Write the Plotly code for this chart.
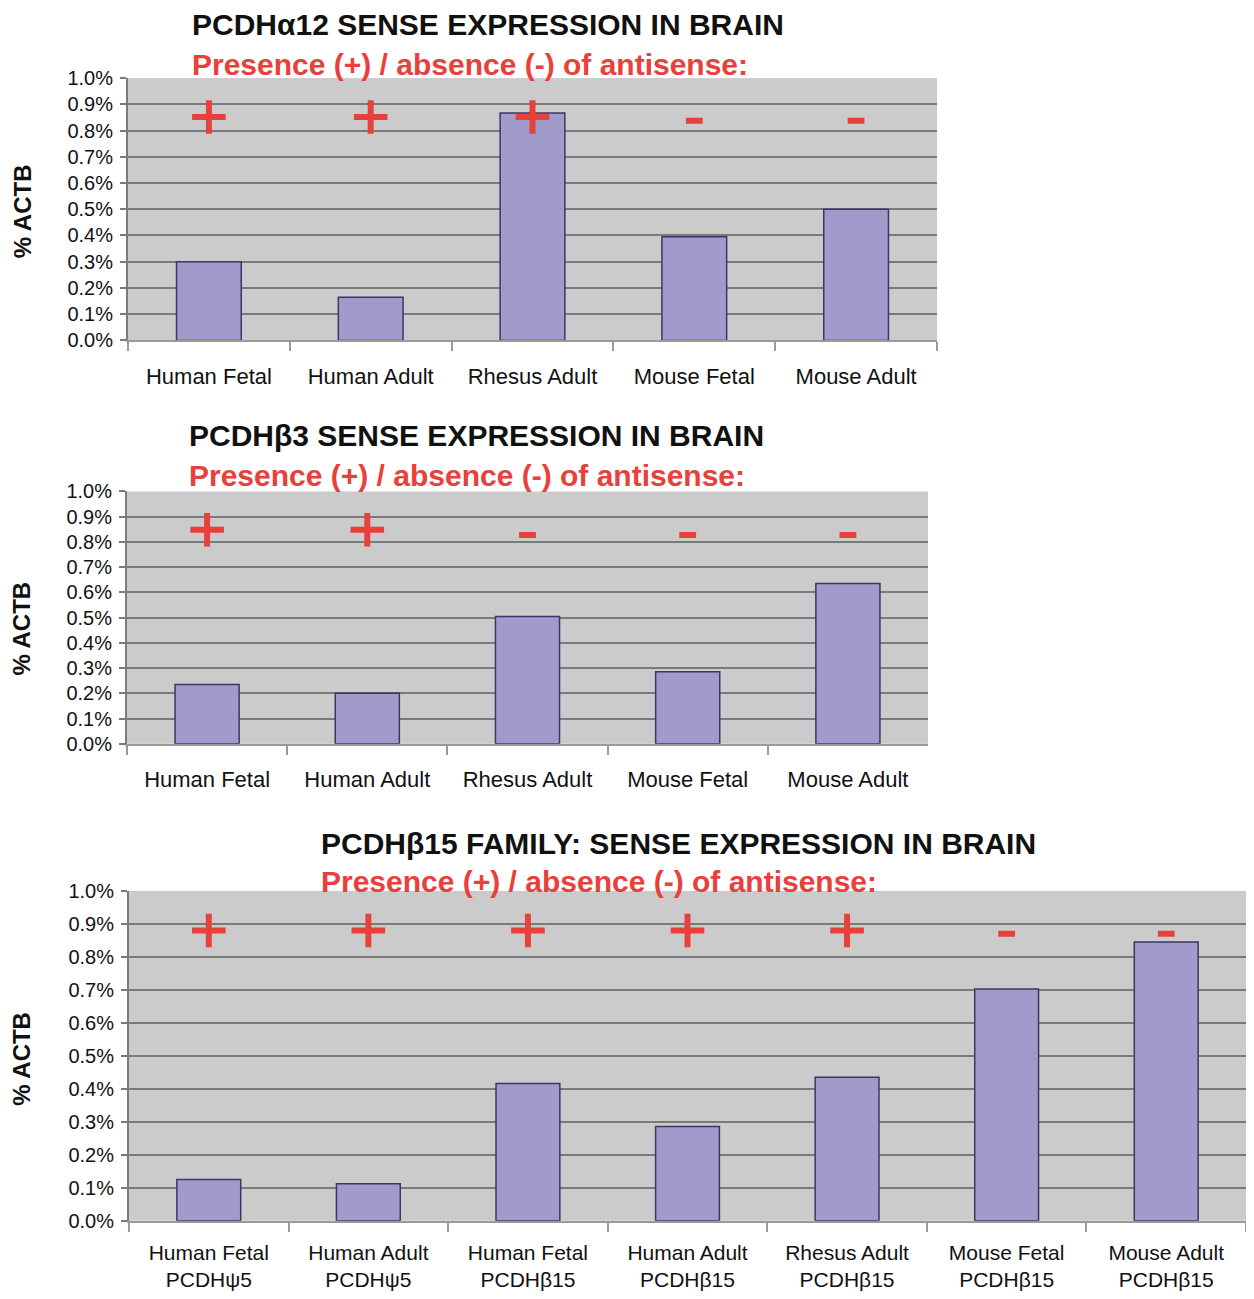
import plotly.graph_objects as go

# ---------------- data ----------------
cats_1 = ["Human Fetal", "Human Adult", "Rhesus Adult", "Mouse Fetal", "Mouse Adult"]
vals_1 = [0.30, 0.165, 0.867, 0.395, 0.50]
signs_1 = ["+", "+", "+", "-", "-"]

cats_2 = ["Human Fetal", "Human Adult", "Rhesus Adult", "Mouse Fetal", "Mouse Adult"]
vals_2 = [0.235, 0.20, 0.505, 0.286, 0.635]
signs_2 = ["+", "+", "-", "-", "-"]

cats_3 = ["Human Fetal<br>PCDHψ5", "Human Adult<br>PCDHψ5", "Human Fetal<br>PCDHβ15",
          "Human Adult<br>PCDHβ15", "Rhesus Adult<br>PCDHβ15", "Mouse Fetal<br>PCDHβ15",
          "Mouse Adult<br>PCDHβ15"]
vals_3 = [0.125, 0.112, 0.416, 0.286, 0.435, 0.703, 0.845]
signs_3 = ["+", "+", "+", "+", "+", "-", "-"]

sign_level = [0.852, 0.848, 0.88]   # height of the + markers in each panel
minus_level = [0.837, 0.827, 0.87]  # height of the - markers in each panel

titles = ["PCDHα12 SENSE EXPRESSION IN BRAIN",
          "PCDHβ3 SENSE EXPRESSION IN BRAIN",
          "PCDHβ15 FAMILY: SENSE EXPRESSION IN BRAIN"]
subtitle = "Presence (+) / absence (-) of antisense:"
y_title = "% ACTB"
y_ticks = [0.0, 0.1, 0.2, 0.3, 0.4, 0.5, 0.6, 0.7, 0.8, 0.9, 1.0]
y_tick_text = [f"{v:.1f}%" for v in y_ticks]

# ---------------- style ----------------
VW, VH = 1254, 1299          # viewport
OFF = 8                      # default page margin
W, H = VW - 2 * OFF, VH - 2 * OFF
BAR_FILL = "#a09bcb"
BAR_LINE = "#3c3566"
RED = "#e8403a"
PLOT_BG = "#cbcbcb"
GRID = "#7a7a7a"
FONT = "Liberation Sans"

# empirical vertical calibration of the rendered page
YA, YB = 10.7, 0.9766


def px_x(p):
    return min(1.0, max(0.0, (p - OFF) / W))


def px_y(p):
    f = (p - YA) / YB - OFF
    return min(1.0, max(0.0, 1 - f / H))


panels = [
    dict(cats=cats_1, vals=vals_1, signs=signs_1,
         xd=[px_x(128), px_x(937)], yd=[px_y(342), px_y(78)],
         tx=190, ty=24, sy=64, ay=212, fs=22, so=15),
    dict(cats=cats_2, vals=vals_2, signs=signs_2,
         xd=[px_x(127), px_x(928)], yd=[px_y(748), px_y(494)],
         tx=187, ty=438, sy=478, ay=632, fs=22, so=15),
    dict(cats=cats_3, vals=vals_3, signs=signs_3,
         xd=[px_x(129), 1.0], yd=[px_y(1228), px_y(896)],
         tx=319, ty=848, sy=887, ay=1065, fs=21, so=12),
]

fig = go.Figure()
annotations = []

for i, p in enumerate(panels):
    n = i + 1
    xa = "x" if n == 1 else f"x{n}"
    ya = "y" if n == 1 else f"y{n}"
    fig.add_trace(go.Bar(
        x=p["cats"], y=p["vals"], width=0.4,
        marker=dict(color=BAR_FILL, line=dict(color=BAR_LINE, width=1.5)),
        xaxis=xa, yaxis=ya, showlegend=False, hoverinfo="x+y"))
    plus_x = [c for c, s in zip(p["cats"], p["signs"]) if s == "+"]
    minus_x = [c for c, s in zip(p["cats"], p["signs"]) if s == "-"]
    if plus_x:
        fig.add_trace(go.Scatter(
            x=plus_x, y=[sign_level[i]] * len(plus_x), mode="markers",
            marker=dict(symbol="cross-thin", size=24, line=dict(color=RED, width=6)),
            xaxis=xa, yaxis=ya, showlegend=False, hoverinfo="skip"))
    if minus_x:
        fig.add_trace(go.Scatter(
            x=minus_x, y=[minus_level[i]] * len(minus_x), mode="markers",
            marker=dict(symbol="line-ew", size=12, line=dict(color=RED, width=6)),
            xaxis=xa, yaxis=ya, showlegend=False, hoverinfo="skip"))

    xkey = "xaxis" if n == 1 else f"xaxis{n}"
    ykey = "yaxis" if n == 1 else f"yaxis{n}"
    fig.update_layout(**{
        xkey: dict(domain=p["xd"], anchor=ya, type="category",
                   showgrid=False, showline=True, linecolor="#9a9a9a", linewidth=2,
                   ticks="outside", tickson="boundaries", ticklen=9, tickcolor="#9a9a9a",
                   tickwidth=2, ticklabelstandoff=p["so"],
                   tickfont=dict(family=FONT, size=p["fs"], color="#111111"),
                   fixedrange=True),
        ykey: dict(domain=p["yd"], anchor=xa, range=[0, 1.0],
                   tickvals=y_ticks, ticktext=y_tick_text,
                   showgrid=True, gridcolor=GRID, gridwidth=2,
                   showline=True, linecolor="#7a7a7a", linewidth=2,
                   ticks="outside", ticklen=6, tickcolor="#7a7a7a", tickwidth=2,
                   ticklabelstandoff=3,
                   tickfont=dict(family=FONT, size=20, color="#111111"),
                   zeroline=False, fixedrange=True),
    })
    annotations.append(dict(text="<b>" + titles[i] + "</b>", xref="paper", yref="paper",
                            x=px_x(p["tx"]), y=px_y(p["ty"]), xanchor="left", yanchor="middle",
                            showarrow=False,
                            font=dict(family=FONT, size=30, color="#111111")))
    annotations.append(dict(text="<b>" + subtitle + "</b>", xref="paper", yref="paper",
                            x=px_x(p["tx"]), y=px_y(p["sy"]), xanchor="left", yanchor="middle",
                            showarrow=False,
                            font=dict(family=FONT, size=30, color=RED)))
    annotations.append(dict(text="<b>" + y_title + "</b>", xref="paper", yref="paper",
                            x=px_x(22), y=px_y(p["ay"]), xanchor="center", yanchor="middle",
                            textangle=-90, showarrow=False,
                            font=dict(family=FONT, size=24, color="#111111")))

fig.update_layout(
    width=W, height=H,
    margin=dict(l=0, r=0, t=0, b=0),
    paper_bgcolor="white",
    plot_bgcolor=PLOT_BG,
    annotations=annotations,
    bargap=0.6,
)

fig.write_html("out.html")
